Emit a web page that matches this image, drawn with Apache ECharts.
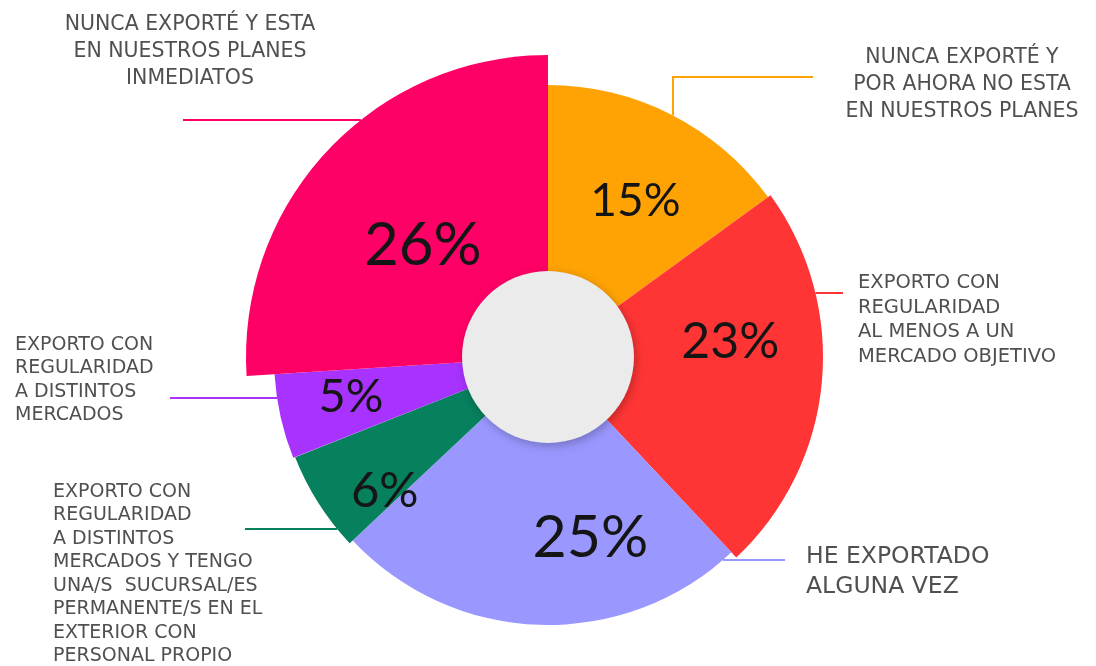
<!DOCTYPE html>
<html>
<head>
<meta charset="utf-8">
<script src="https://cdn.jsdelivr.net/npm/echarts@6/dist/echarts.min.js"></script>
<style>
  html, body { margin: 0; padding: 0; background: #fff; }
  #chart { width: 1096px; height: 666px; }
</style>
</head>
<body>
<div id="chart"></div>
<script>
// slices clockwise from 12 o'clock
const categories = [
  'NUNCA EXPORTÉ Y\nPOR AHORA NO ESTA\nEN NUESTROS PLANES',
  'EXPORTO CON\nREGULARIDAD\nAL MENOS A UN\nMERCADO OBJETIVO',
  'HE EXPORTADO\nALGUNA VEZ',
  'EXPORTO CON\nREGULARIDAD\nA DISTINTOS\nMERCADOS Y TENGO\nUNA/S  SUCURSAL/ES\nPERMANENTE/S EN EL\nEXTERIOR CON\nPERSONAL PROPIO',
  'EXPORTO CON\nREGULARIDAD\nA DISTINTOS\nMERCADOS',
  'NUNCA EXPORTÉ Y ESTA\nEN NUESTROS PLANES\nINMEDIATOS'
];
const values = [15, 23, 25, 6, 5, 26];

const colors = ['#FFA305', '#FF3535', '#9A98FF', '#07805E', '#A833FF', '#FF0066'];
const outerR = [272, 275, 268, 272, 274, 302];
const pctSize = [46, 50, 59, 49, 47, 60];
// nudges for the percentage labels
const pctShift = [[5, 6], [0, -32], [48, 2], [-10, 37], [-19, 0], [18, 23]];
const CX = 548, CY = 357, INNER = 85;

// caption placement (text anchor, leader height, leader end)
const captions = [
  { x: 962, y: 44, align: 'center', lh: 27, fs: 20.5, lineY: 77, lineX: 673, end: 813 },
  { x: 858, y: 271, align: 'left', lh: 24.5, fs: 19.5, lineY: 293, end: 843 },
  { x: 806, y: 542, align: 'left', lh: 30, fs: 23.5, lineY: 560, end: 785 },
  { x: 53, y: 480, align: 'left', lh: 23.5, fs: 19, lineY: 529, end: 245 },
  { x: 15, y: 333, align: 'left', lh: 23.5, fs: 19, lineY: 398, end: 170 },
  { x: 190, y: 11, align: 'center', lh: 27, fs: 20.5, lineY: 120, end: 183 }
];

const myChart = echarts.init(document.getElementById('chart'));

// one ring per slice so every slice can have its own outer radius
const sliceSeries = values.map((v, i) => ({
  type: 'pie',
  center: [CX, CY],
  radius: [INNER, outerR[i]],
  startAngle: 90,
  silent: true,
  avoidLabelOverlap: false,
  labelLine: { show: false },
  data: values.map((val, j) => ({
    value: val,
    name: categories[j],
    itemStyle: { color: j === i ? colors[j] : 'transparent' },
    label: j === i
      ? { show: true, position: 'inside', formatter: '{c}%', fontSize: pctSize[j], color: '#151515', fontFamily: 'Lato' }
      : { show: false }
  })),
  labelLayout: function (params) {
    return { dx: pctShift[params.dataIndex][0], dy: pctShift[params.dataIndex][1] };
  }
}));

// transparent ring carrying the category captions and leader lines
const captionSeries = {
  type: 'pie',
  center: [CX, CY],
  radius: [INNER, 302],
  startAngle: 90,
  silent: true,
  avoidLabelOverlap: false,
  itemStyle: { color: 'transparent' },
  label: {
    show: true,
    position: 'outside',
    formatter: '{b}',
    color: '#505050',
    fontFamily: 'DejaVu Sans'
  },
  labelLine: { show: true, lineStyle: { width: 2 } },
  data: values.map((val, j) => ({
    value: val,
    name: categories[j],
    label: { fontSize: captions[j].fs, lineHeight: captions[j].lh, align: captions[j].align },
    labelLine: { lineStyle: { color: colors[j] } }
  })),
  labelLayout: function (params) {
    const i = params.dataIndex;
    const c = captions[i];
    const r = outerR[i];
    let pts;
    if (c.lineX != null) {
      const y0 = CY - Math.sqrt(r * r - (c.lineX - CX) * (c.lineX - CX));
      pts = [[c.lineX, y0], [c.lineX, c.lineY], [c.end, c.lineY]];
    } else {
      const dy = c.lineY - CY;
      const dx = Math.sqrt(r * r - dy * dy);
      const x0 = c.end < CX ? CX - dx : CX + dx;
      pts = [[x0, c.lineY], [x0, c.lineY], [c.end, c.lineY]];
    }
    return {
      x: c.x,
      y: c.y,
      align: c.align,
      verticalAlign: 'top',
      labelLinePoints: pts
    };
  }
};

const centerDisc = {
  type: 'pie',
  center: [CX, CY],
  radius: [0, INNER + 1],
  silent: true,
  z: 5,
  label: { show: false },
  labelLine: { show: false },
  data: [{
    value: 1,
    itemStyle: {
      color: '#EBEBEB',
      shadowBlur: 10,
      shadowColor: 'rgba(0,0,0,0.25)',
      shadowOffsetX: 2,
      shadowOffsetY: 3
    }
  }]
};

myChart.setOption({
  animation: false,
  series: sliceSeries.concat([captionSeries, centerDisc])
});
</script>
</body>
</html>
